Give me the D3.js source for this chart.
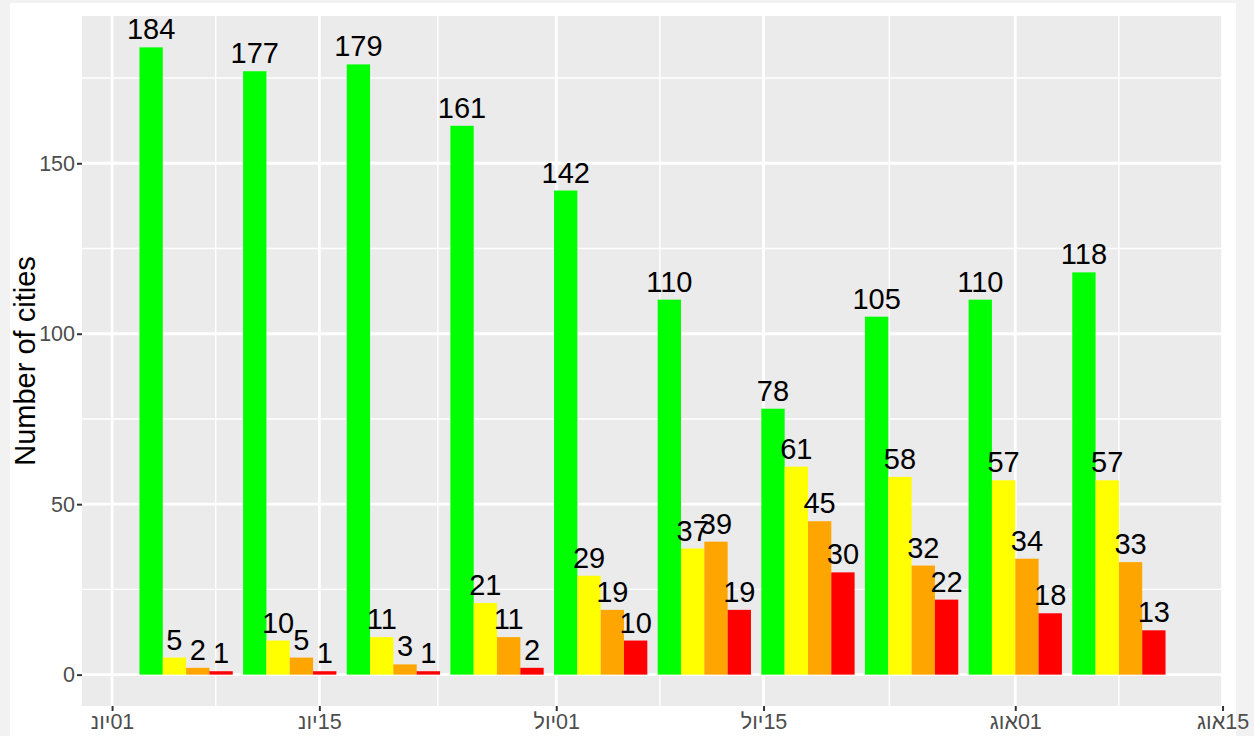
<!DOCTYPE html>
<html>
<head>
<meta charset="utf-8">
<script src="https://cdn.jsdelivr.net/npm/d3@7"></script>
<style>
body { margin: 0; background: #f2f2f2; }
svg { display: block; font-family: "Liberation Sans", Arial, sans-serif; }
</style>
</head>
<body>
<script>
// weekly counts of cities per colour
var weeks = ["2021-06-06","2021-06-13","2021-06-20","2021-06-27","2021-07-04",
             "2021-07-11","2021-07-18","2021-07-25","2021-08-01","2021-08-08"];
var colours = ["green","yellow","orange","red"];
var greenCities  = [184,177,179,161,142,110,78,105,110,118];
var yellowCities = [5,10,11,21,29,37,61,58,57,57];
var orangeCities = [2,5,3,11,19,39,45,32,34,33];
var redCities    = [1,1,1,2,10,19,30,22,18,13];
var xTickDates  = ["2021-06-01","2021-06-15","2021-07-01","2021-07-15","2021-08-01","2021-08-15"];
var xTickLabels = ["01יונ","15יונ","01יול","15יול","01אוג","15אוג"];
var yTicks = [0,50,100,150];
var yTitle = "Number of cities";

var fillOf = {green: "#00ff00", yellow: "#ffff00", orange: "#ffa500", red: "#ff0000"};
var series = {green: greenCities, yellow: yellowCities, orange: orangeCities, red: redCities};

var width = 1254, height = 736;
var panel = {left: 82, right: 1223, top: 16, bottom: 706};

var svg = d3.select("body").append("svg")
	.attr("width", width)
	.attr("height", height);

// white card
svg.append("rect")
	.attr("x", 10).attr("y", 3)
	.attr("width", 1226).attr("height", 760)
	.attr("fill", "white");

var parse = d3.utcParse("%Y-%m-%d");
var DAY = 864e5;
var barSpan = 0.9 * 7 * DAY;

var rows = [];
weeks.forEach(function(w, i) {
	colours.forEach(function(c) {
		rows.push({date: parse(w), colour: c, value: series[c][i]});
	});
});

var first = +parse(weeks[0]) - barSpan / 2;
var last = +parse(weeks[weeks.length - 1]) + barSpan / 2;
var pad = (last - first) * 0.056;

var x = d3.scaleUtc()
	.domain([new Date(first - pad), new Date(last + pad)])
	.range([panel.left, panel.right]);

var yMax = d3.max(rows, function(d) { return d.value; });
var y = d3.scaleLinear()
	.domain([-yMax * 0.05, yMax * 1.05])
	.range([panel.bottom, panel.top]);

var bandPx = x(new Date(first + barSpan)) - x(new Date(first));
var inner = d3.scaleBand().domain(colours).range([0, bandPx]).padding(0);

// panel background
svg.append("rect")
	.attr("x", panel.left).attr("y", panel.top)
	.attr("width", panel.right - panel.left)
	.attr("height", panel.bottom - panel.top)
	.attr("fill", "#ebebeb");

// minor grid
var tickDates = xTickDates.map(parse);
var minorX = [];
for (var i = 0; i < tickDates.length - 1; i++) {
	minorX.push(new Date((+tickDates[i] + +tickDates[i + 1]) / 2));
}
var minorY = [];
for (var i = 0; i < yTicks.length; i++) {
	minorY.push(yTicks[i] + 25);
}

var grid = svg.append("g");
grid.selectAll(".minx").data(minorX).enter().append("line")
	.attr("x1", function(d) { return x(d); }).attr("x2", function(d) { return x(d); })
	.attr("y1", panel.top).attr("y2", panel.bottom)
	.attr("stroke", "white").attr("stroke-width", 1.4);
grid.selectAll(".miny").data(minorY).enter().append("line")
	.attr("y1", function(d) { return y(d); }).attr("y2", function(d) { return y(d); })
	.attr("x1", panel.left).attr("x2", panel.right)
	.attr("stroke", "white").attr("stroke-width", 1.4);
grid.selectAll(".majx").data(tickDates).enter().append("line")
	.attr("x1", function(d) { return x(d); }).attr("x2", function(d) { return x(d); })
	.attr("y1", panel.top).attr("y2", panel.bottom)
	.attr("stroke", "white").attr("stroke-width", 2.8);
grid.selectAll(".majy").data(yTicks).enter().append("line")
	.attr("y1", function(d) { return y(d); }).attr("y2", function(d) { return y(d); })
	.attr("x1", panel.left).attr("x2", panel.right)
	.attr("stroke", "white").attr("stroke-width", 2.8);

// bars
function barX(d) {
	return x(new Date(+d.date - barSpan / 2)) + inner(d.colour);
}
svg.append("g").selectAll("rect").data(rows).enter().append("rect")
	.attr("x", barX)
	.attr("width", inner.bandwidth())
	.attr("y", function(d) { return y(d.value); })
	.attr("height", function(d) { return y(0) - y(d.value); })
	.attr("fill", function(d) { return fillOf[d.colour]; });

// value labels
svg.append("g").selectAll("text").data(rows).enter().append("text")
	.attr("x", function(d) { return barX(d) + inner.bandwidth() / 2; })
	.attr("y", function(d) { return y(d.value) - 8; })
	.attr("text-anchor", "middle")
	.style("font-size", "29px")
	.attr("fill", "black")
	.text(function(d) { return d.value; });

// axes
var yAxis = svg.append("g")
	.attr("transform", "translate(" + panel.left + ",0)")
	.call(d3.axisLeft(y).tickValues(yTicks).tickSize(5).tickPadding(2));
var xAxis = svg.append("g")
	.attr("transform", "translate(0," + panel.bottom + ")")
	.call(d3.axisBottom(x).tickValues(tickDates)
		.tickFormat(function(d, i) { return xTickLabels[i]; })
		.tickSize(5).tickPadding(3));

[yAxis, xAxis].forEach(function(a) {
	a.select(".domain").remove();
	a.selectAll(".tick line").attr("stroke", "#333333").attr("stroke-width", 2);
	a.selectAll(".tick text")
		.attr("fill", "#4d4d4d")
		.style("font-size", "21.5px")
		.style("font-family", "'Liberation Sans', Arial, sans-serif");
});
xAxis.selectAll(".tick text").style("direction", "rtl");

// y title
svg.append("text")
	.attr("transform", "translate(35," + (panel.top + panel.bottom) / 2 + ") rotate(-90)")
	.attr("text-anchor", "middle")
	.style("font-size", "29px")
	.attr("fill", "black")
	.text(yTitle);
</script>
</body>
</html>
